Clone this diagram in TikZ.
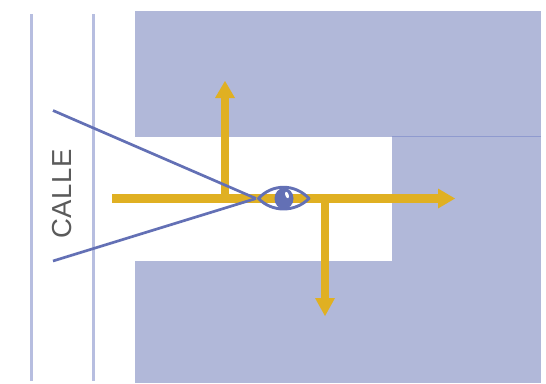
\documentclass[tikz,border=0pt]{standalone}
\usepackage{fontspec}
\setmainfont{Liberation Sans}
\usetikzlibrary{arrows.meta}
\definecolor{block}{HTML}{B1B8D9}
\definecolor{edgeb}{HTML}{8F9ACF}
\definecolor{road}{HTML}{B7BEE0}
\definecolor{sight}{HTML}{6370B5}
\definecolor{gold}{HTML}{E0B022}
\definecolor{lbl}{HTML}{5A5A5A}
\tikzset{
  blockfill/.style={fill=block,draw=none},
  roadline/.style={fill=road,draw=none},
  sightline/.style={draw=sight,line width=2.7pt},
  goldline/.style={draw=gold,line width=8.2pt},
  goldhead/.style={fill=gold,draw=none},
  eyeline/.style={draw=sight,line width=2.9pt,line join=round}
}
\begin{document}
\begin{tikzpicture}[x=1pt,y=-1pt]
\useasboundingbox (0,0) rectangle (546,383);
% blocks
\fill[blockfill] (135,11) rectangle (541,137);
\fill[blockfill] (392,137) rectangle (541,261);
\fill[blockfill] (135,261) rectangle (541,383);
\draw[draw=edgeb,line width=1pt] (392,136.5) -- (541,136.5);
% road
\fill[roadline] (29.5,14) rectangle (32.8,381);
\fill[roadline] (91.5,14) rectangle (94.8,381);
% coordinates
\coordinate (gs) at (112,198.5);
\coordinate (ge) at (438,198.5);
\coordinate (us) at (225,202);
\coordinate (ue) at (225,98);
\coordinate (ds) at (325,195);
\coordinate (de) at (325,298);
\coordinate (apex) at (256,198.5);
\coordinate (s1) at (53,110.5);
\coordinate (s2) at (53,261);
% gold arrows
\draw[goldline] (gs) -- (ge);
\draw[goldline] (us) -- (ue);
\draw[goldline] (ds) -- (de);
\fill[goldhead] (438,188.5) -- (455,198.5) -- (438,208.5) -- cycle;
\fill[goldhead] (215,98) -- (225,81) -- (235,98) -- cycle;
\fill[goldhead] (315,298) -- (325,316) -- (335,298) -- cycle;
% sight lines
\draw[sightline] (s1) -- (apex);
\draw[sightline] (s2) -- (apex);
% eye
\draw[eyeline] (258.5,198.5) .. controls (272,183.5) and (295,183.5) .. (309,198.5)
  .. controls (295,212.5) and (272,212.5) .. (258.5,198.5) -- cycle;
\fill[sight] (284,198.5) ellipse (9.5 and 10.5);
\fill[white,rotate around={20:(287,195)}] (287,195) ellipse (1.7 and 3.4);
% label
\node[rotate=90,text=lbl,inner sep=0pt,font=\fontsize{27.5}{30}\selectfont] (calle) at (62,194) {\addfontfeature{LetterSpace=1.5}CALLE};
\end{tikzpicture}
\end{document}
